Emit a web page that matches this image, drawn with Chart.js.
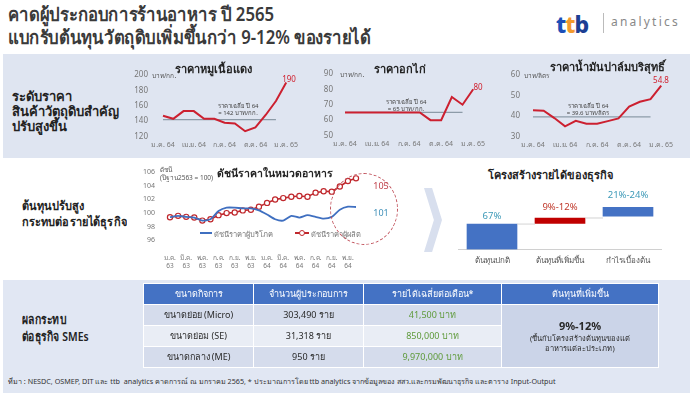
<!DOCTYPE html>
<html><head><meta charset="utf-8">
<script src="https://cdn.jsdelivr.net/npm/chart.js@4.4.1/dist/chart.umd.min.js"></script>
<style>
html,body{margin:0;padding:0;background:#fff;}
body{font-family:"Noto Sans","DejaVu Sans",sans-serif;color:#2a2a2a;}
#root{position:relative;width:696px;height:393px;overflow:hidden;background:#fff;}
.abs{position:absolute;white-space:nowrap;}
.band{position:absolute;background:#dfe5f1;}
.c{position:absolute;}
.ctr{transform:translate(-50%,-50%);}
.lbl{font-weight:600;color:#222;transform-origin:0 0;}
.ct{font-size:11px;font-weight:700;color:#222;}
.unit{font-size:6.5px;color:#555;}
.avg{font-size:6px;line-height:7px;color:#444;text-align:center;}
.end{font-size:8px;color:#d0202e;}
table{border-collapse:collapse;table-layout:fixed;font-size:9px;}
td,th{border:1px solid #fff;text-align:center;padding:0;height:20px;}
th{background:#4472c4;color:#fff;font-weight:500;}
</style></head>
<body><div id="root">
<div class="abs" style="left:8px;top:3px;font-size:19px;font-weight:600;color:#3a3a3a;line-height:23px;transform:scaleX(0.88);transform-origin:0 0;">คาดผู้ประกอบการร้านอาหาร ปี 2565<br>แบกรับต้นทุนวัตถุดิบเพิ่มขึ้นกว่า 9-12% ของรายได้</div>
<div class="abs" style="left:556px;top:8px;font-size:23px;font-weight:800;letter-spacing:-1px;"><span style="color:#1c4fb8">t</span><span style="color:#f39a2d">t</span><span style="color:#1c3f94">b</span></div>
<div class="abs" style="left:603px;top:13px;width:1px;height:20px;background:#bbb;"></div>
<div class="abs" style="left:611px;top:13px;font-size:12px;letter-spacing:2.2px;color:#888;">analytics</div>

<div class="band" style="left:3px;top:54px;width:687px;height:104px;"></div>
<div class="band" style="left:3px;top:280px;width:687px;height:113px;background:#e1e7f3;"></div>

<div class="abs lbl" style="left:12px;top:89px;font-size:13px;line-height:15px;">ระดับราคา<br>สินค้าวัตถุดิบสำคัญ<br>ปรับสูงขึ้น</div>
<div class="abs lbl" style="left:22px;top:198px;font-size:12.5px;line-height:16px;transform:scaleX(0.88);">ต้นทุนปรับสูง<br>กระทบต่อรายได้ธุรกิจ</div>
<div class="abs lbl" style="left:22px;top:311px;font-size:13px;line-height:17px;transform:scaleX(0.8);">ผลกระทบ<br>ต่อธุรกิจ SMEs</div>

<canvas id="c1" class="c" style="left:129px;top:68px;" width="173" height="85"></canvas>
<canvas id="c2" class="c" style="left:311px;top:67px;" width="178" height="85"></canvas>
<canvas id="c3" class="c" style="left:499px;top:68px;" width="178" height="85"></canvas>

<div class="abs ct ctr" style="left:213px;top:69px;">ราคาหมูเนื้อแดง</div>
<div class="abs ct ctr" style="left:400px;top:69px;">ราคาอกไก่</div>
<div class="abs ct ctr" style="left:607px;top:67px;">ราคาน้ำมันปาล์มบริสุทธิ์</div>
<div class="abs unit" style="left:152px;top:71px;">บาท/กก.</div>
<div class="abs unit" style="left:340px;top:70px;">บาท/กก.</div>
<div class="abs unit" style="left:524px;top:71px;">บาท/ลิตร</div>
<div class="abs avg ctr" style="left:238px;top:110px;">ราคาเฉลี่ย ปี 64<br>= 142 บาท/กก.</div>
<div class="abs avg ctr" style="left:406px;top:106px;">ราคาเฉลี่ย ปี 64<br>= 65 บาท/กก.</div>
<div class="abs avg ctr" style="left:588px;top:110px;">ราคาเฉลี่ย ปี 64<br>= 39.6 บาท/ลิตร</div>
<div class="abs end ctr" style="left:289px;top:78px;">190</div>
<div class="abs end ctr" style="left:478px;top:86px;">80</div>
<div class="abs end ctr" style="left:661px;top:79px;">54.8</div>

<canvas id="c4" class="c" style="left:140px;top:166px;" width="230" height="118"></canvas>
<div class="abs unit" style="left:160px;top:166px;line-height:8px;">ดัชนี<br>(ปีฐาน2563 = 100)</div>
<div class="abs ctr" style="left:275px;top:173px;font-size:10.5px;font-weight:700;color:#222;">ดัชนีราคาในหมวดอาหาร</div>
<div class="abs" style="left:200px;top:232px;width:12px;height:2px;background:#3f6fc0;"></div>
<div class="abs" style="left:214px;top:228px;font-size:7.5px;color:#777;">ดัชนีราคาผู้บริโภค</div>
<div class="abs" style="left:295px;top:232px;width:14px;height:2px;background:#c0282d;"></div>
<div class="abs" style="left:299px;top:230px;width:4px;height:4px;border:1.2px solid #c0282d;border-radius:50%;background:#fff;"></div>
<div class="abs" style="left:311px;top:228px;font-size:7.5px;color:#777;">ดัชนีราคาผู้ผลิต</div>
<div class="abs" style="left:330px;top:173px;width:66px;height:70px;border:1.5px dashed #c0505a;border-radius:50%;"></div>
<div class="abs ctr" style="left:381px;top:185px;font-size:9px;color:#c0404a;">105</div>
<div class="abs ctr" style="left:381px;top:212px;font-size:9px;color:#3e8fb8;">101</div>

<div class="abs" style="left:424px;top:188px;width:18px;height:64px;background:#d8dfee;clip-path:polygon(0 0,45% 0,100% 50%,45% 100%,0 100%,55% 50%);"></div>

<canvas id="c5" class="c" style="left:458px;top:204px;" width="204" height="69"></canvas>
<div class="abs ctr" style="left:550px;top:175px;font-size:11px;font-weight:700;color:#222;">โครงสร้างรายได้ของธุรกิจ</div>
<div class="abs ctr" style="left:492px;top:215px;font-size:9.5px;color:#3e9ab8;">67%</div>
<div class="abs ctr" style="left:560px;top:206px;font-size:9.5px;color:#c0392b;">9%-12%</div>
<div class="abs ctr" style="left:628px;top:194px;font-size:9.5px;color:#3e9ab8;">21%-24%</div>

<table class="abs" style="left:143px;top:283px;width:515px;">
<colgroup><col style="width:110px"><col style="width:110px"><col style="width:138px"><col style="width:157px"></colgroup>
<tr><th>ขนาดกิจการ</th><th>จำนวนผู้ประกอบการ</th><th>รายได้เฉลี่ยต่อเดือน*</th><th>ต้นทุนที่เพิ่มขึ้น</th></tr>
<tr style="background:#d5dcec"><td>ขนาดย่อย (Micro)</td><td>303,490 ราย</td><td style="color:#5e9a3a">41,500 บาท</td>
<td rowspan="3" style="background:#cbd4e8;line-height:10px;"><span style="font-size:11px;font-weight:700;line-height:14px;">9%-12%</span><br><span style="font-size:7.5px">(ขึ้นกับโครงสร้างต้นทุนของแต่<br>อาหารแต่ละประเภท)</span></td></tr>
<tr style="background:#e9edf5"><td>ขนาดย่อม (SE)</td><td>31,318 ราย</td><td style="color:#5e9a3a">850,000 บาท</td></tr>
<tr style="background:#d5dcec"><td>ขนาดกลาง (ME)</td><td>950 ราย</td><td style="color:#5e9a3a">9,970,000 บาท</td></tr>
</table>
<div class="abs" style="left:8px;top:376px;font-size:7.2px;color:#333;">ที่มา : NESDC, OSMEP, DIT และ ttb&nbsp; analytics คาดการณ์ ณ มกราคม 2565, * ประมาณการโดย ttb analytics จากข้อมูลของ สสว.และกรมพัฒนาธุรกิจ และตาราง Input-Output</div>
</div>
<script>
// ---- data ----
const months64 = ['ม.ค. 64','ก.พ. 64','มี.ค. 64','เม.ย. 64','พ.ค. 64','มิ.ย. 64','ก.ค. 64','ส.ค. 64','ก.ย. 64','ต.ค. 64','พ.ย. 64','ธ.ค. 64','ม.ค. 65'];
const shownMonthIdx = [0,3,6,9,12];
const porkPrice = [147,143,153,153,143,143,138,137,127,132,148,166,190];
const porkAvg = [142,142,142,142,142,142,142,142,142,142,142,142,null];
const chickenPrice = [65,65,65,65,65,65,65,65,60,60,75,70,80];
const chickenAvg = [65,65,65,65,65,65,65,65,65,65,65,65,null];
const palmPrice = [42.8,42.6,39,35,37.7,36.2,36.2,37.5,38.8,44.6,46.9,48.2,54.8];
const palmAvg = [39.6,39.6,39.6,39.6,39.6,39.6,39.6,39.6,39.6,39.6,39.6,39.6,null];

const cpiMonths = [['ม.ค.','63'],['ก.พ.','63'],['มี.ค.','63'],['เม.ย.','63'],['พ.ค.','63'],['มิ.ย.','63'],['ก.ค.','63'],['ส.ค.','63'],['ก.ย.','63'],['ต.ค.','63'],['พ.ย.','63'],['ธ.ค.','63'],
  ['ม.ค.','64'],['ก.พ.','64'],['มี.ค.','64'],['เม.ย.','64'],['พ.ค.','64'],['มิ.ย.','64'],['ก.ค.','64'],['ส.ค.','64'],['ก.ย.','64'],['ต.ค.','64'],['พ.ย.','64'],['ธ.ค.','64']];
const consumerIndex = [99.4,99.6,99.45,99.35,98.9,99.1,100.3,100.8,100.8,100.7,100.7,100.4,99.8,99.1,98.9,99.6,99.35,99.7,99.45,99.2,99.45,100.5,100.95,100.9];
const producerIndex = [99.4,99.6,99.45,99.35,98.9,99.1,99.7,100.0,100.1,100.4,100.5,100.95,101.5,102.0,102.2,102.4,102.5,102.4,103.0,103.2,103.15,103.9,104.7,105.1];

const structCats = ['ต้นทุนปกติ','ต้นทุนที่เพิ่มขึ้น','กำไรเบื้องต้น'];
const structRanges = [[0,67],[69,83],[88,111]];
const structColors = ['#4472c4','#c00000','#4472c4'];

// ---- charts ----
Chart.defaults.font.family = '"Noto Sans","DejaVu Sans",sans-serif';
Chart.defaults.color = '#666';
const RED = '#cc2030';

function smallLine(id, values, avg, min, max, step, yw, gap){
  new Chart(document.getElementById(id), {
    type:'line',
    data:{labels:months64, datasets:[
      {data:values, borderColor:RED, borderWidth:2, pointRadius:0, tension:0},
      {data:avg, borderColor:'#8d9ba8', borderWidth:1.2, pointRadius:0}
    ]},
    options:{animation:false, responsive:false, maintainAspectRatio:false,
      plugins:{legend:{display:false}, tooltip:{enabled:false}},
      layout:{padding:0},
      scales:{
        x:{grid:{display:false, drawTicks:false}, border:{display:false},
           ticks:{autoSkip:false, maxRotation:0, padding:4, font:{size:7}, color:'#777',
                  callback:(v,i)=> shownMonthIdx.includes(i) ? months64[i] : ''}},
        y:{min:min, max:max, grid:{display:false, drawTicks:true, tickLength:gap}, border:{display:false},
           ticks:{stepSize:step, padding:2, font:{size:8}, color:'#777'},
           afterFit:s=>{s.width=yw;}}
      }}
  });
}
smallLine('c1', porkPrice, porkAvg, 120, 200, 20, 34, 13);
smallLine('c2', chickenPrice, chickenAvg, 50, 90, 10, 34, 10);
smallLine('c3', palmPrice, palmAvg, 30, 60, 10, 34, 11);

new Chart(document.getElementById('c4'), {
  type:'line',
  data:{labels:cpiMonths, datasets:[
    {data:consumerIndex, borderColor:'#3f6fc0', borderWidth:1.8, pointRadius:0, tension:0.2},
    {data:producerIndex, borderColor:'#c0282d', borderWidth:1.6, pointRadius:2.6, pointBorderWidth:1.2,
     pointBackgroundColor:'#fff', pointBorderColor:'#c0282d', tension:0}
  ]},
  options:{animation:false, responsive:false, maintainAspectRatio:false,
    plugins:{legend:{display:false}, tooltip:{enabled:false}},
    layout:{padding:{right:3}},
    scales:{
      x:{grid:{display:false, drawTicks:false}, border:{display:false},
         ticks:{autoSkip:false, maxRotation:0, padding:14, font:{size:6.5}, color:'#777',
                callback:(v,i)=> i%2===0 ? cpiMonths[i] : ''}},
      y:{min:96, max:106, grid:{display:false, drawTicks:true, tickLength:13}, border:{display:false},
         ticks:{stepSize:2, padding:2, font:{size:7}, color:'#777'},
         afterFit:s=>{s.width=30;}}
    }}
});

new Chart(document.getElementById('c5'), {
  type:'bar',
  data:{labels:structCats, datasets:[{data:structRanges, backgroundColor:structColors, barThickness:50, borderSkipped:false}]},
  options:{animation:false, responsive:false, maintainAspectRatio:false,
    plugins:{legend:{display:false}, tooltip:{enabled:false}},
    layout:{padding:0},
    scales:{
      x:{grid:{display:false, drawTicks:false}, border:{display:true, color:'#d0d0d0'},
         ticks:{padding:7, font:{size:8}, color:'#555'}},
      y:{display:false, min:0, max:120}
    }},
  plugins:[{id:'connectors', afterDatasetsDraw(chart){
    const ctx=chart.ctx, meta=chart.getDatasetMeta(0), y=chart.scales.y;
    ctx.save(); ctx.strokeStyle='#c8c8c8'; ctx.lineWidth=0.8;
    for(let i=0;i<meta.data.length-1;i++){
      const a=meta.data[i], b=meta.data[i+1];
      const yy=y.getPixelForValue(structRanges[i][1]);
      ctx.beginPath(); ctx.moveTo(a.x+a.width/2,yy); ctx.lineTo(b.x-b.width/2,yy); ctx.stroke();
    }
    ctx.restore();
  }}]
});
</script>
</body></html>
